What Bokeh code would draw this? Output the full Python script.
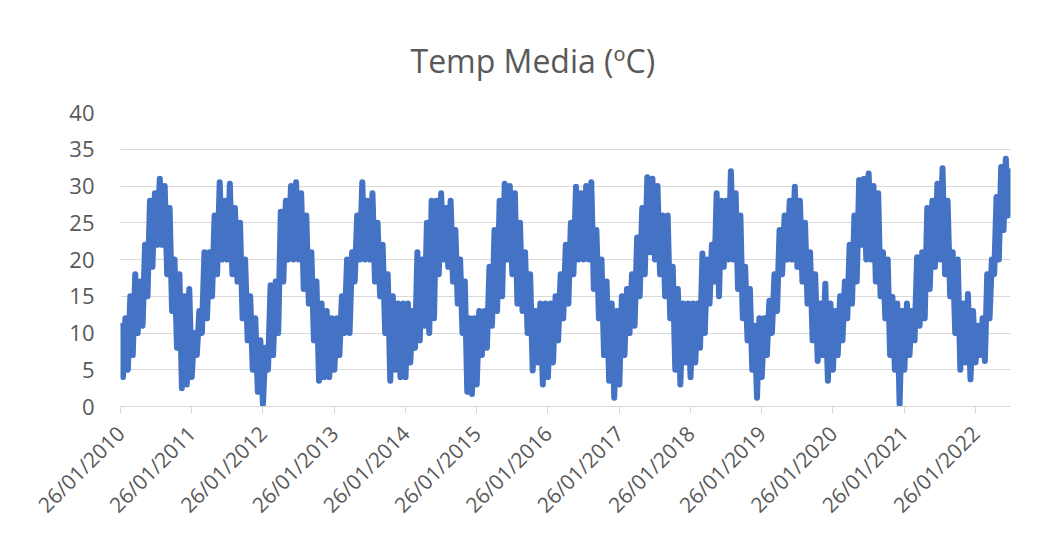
import numpy as np
import pandas as pd
from math import pi
from bokeh.plotting import figure
from bokeh.models import FixedTicker, DatetimeTickFormatter, Range1d, ColumnDataSource
from bokeh.embed import file_html
from bokeh.resources import INLINE

title_text = "Temp Media (ºC)"
tick_labels = ["26/01/%d" % y for y in range(2010, 2023)]
series_start = "2010-01-26"
series_end = "2022-07-24"
y_ticks = [0, 5, 10, 15, 20, 25, 30, 35, 40]

# daily mean temperature: alternating lows / highs of the jagged band,
# one list per year starting on 26 January
temp_2010 = [11, 4, 12, 5, 15, 7, 18, 10, 17, 11, 22, 15, 28, 19, 29, 22, 31, 22, 30, 18, 27, 13, 20, 8, 18, 2.5, 15, 3, 16]
temp_2011 = [4, 10, 7, 13, 10, 21, 12, 21, 15, 26, 18, 30.5, 20, 28, 20, 30.3, 18, 27, 17, 25, 12, 20, 9, 15, 5, 12, 2, 9]
temp_2012 = [0.3, 8, 5, 16.5, 7, 17, 10, 26.5, 17, 28, 20, 30, 20, 30.5, 20, 29, 16, 26, 14, 21, 9, 17, 3.5, 14, 4, 13, 4, 12]
temp_2013 = [5, 12, 7, 15, 10, 20, 10, 21, 17, 26, 20, 30.5, 20, 28, 20, 29, 17, 25, 15, 22, 10, 18, 3.5, 15, 5, 14, 4, 14]
temp_2014 = [4, 14, 6, 13, 8, 21, 9, 20, 11, 25, 10, 28, 12, 28, 18, 29, 20, 27, 19, 28, 17, 24, 14, 20, 10, 17, 2, 12, 1.7, 12]
temp_2015 = [3, 13, 7, 13, 8, 19, 11, 24, 13, 28, 15, 30.3, 20, 30, 18, 29, 14, 25, 13, 21, 10, 18, 4.9, 13, 6, 14, 3, 14]
temp_2016 = [4, 14, 6, 15, 9, 18, 12, 22, 14, 25, 18, 29.9, 20, 29, 20, 30, 20, 30.5, 16, 24, 12, 20, 7, 17, 3.5, 14, 1.2, 13]
temp_2017 = [3, 15, 7, 16, 10, 18, 11, 23, 15, 27, 18, 31.2, 21, 31, 20, 30, 18, 26, 15, 26, 12, 19, 5, 16, 3, 14, 6, 14]
temp_2018 = [4, 14, 6, 14, 8, 20.8, 10, 20, 14, 22, 17, 29, 15, 28, 19, 28, 20, 32, 20, 29, 16, 26, 12, 19, 9, 16, 5, 11, 1.2, 12]
temp_2019 = [4, 12, 7, 14.4, 10, 18, 13, 24, 18, 26, 20, 28, 20, 29.9, 19, 28, 17, 25, 14, 21, 9, 18, 6.2, 14, 7, 16.7, 3.5, 14]
temp_2020 = [5, 13, 7, 15, 9, 17, 12, 22, 14, 26, 17, 30.8, 22, 31, 20, 31.7, 20, 30, 17, 29, 15, 21, 12, 20, 7, 14.9, 5, 14, 0.3, 13]
temp_2021 = [5, 14, 7, 13, 9, 20.3, 11, 21, 12, 27, 16, 28, 19, 30.3, 20, 32.4, 18, 28, 15, 21, 10, 20, 5, 14, 6, 15.3, 3.7, 13]
temp_2022 = [6, 11, 7, 12, 6.2, 18, 12, 20, 18, 28.5, 20, 32.6, 24, 33.7, 26, 32]

years = list(range(2010, 2023))
year_values = [temp_2010, temp_2011, temp_2012, temp_2013, temp_2014, temp_2015, temp_2016,
               temp_2017, temp_2018, temp_2019, temp_2020, temp_2021, temp_2022]

xs, ys = [], []
for yr, vals in zip(years, year_values):
    start = pd.Timestamp("%d-01-26" % yr)
    end = pd.Timestamp("%d-01-26" % (yr + 1)) if yr < 2022 else pd.Timestamp(series_end)
    last = yr == 2022
    n = len(vals)
    for i, v in enumerate(vals):
        frac = i / (n - 1) if last else i / n
        xs.append(start + (end - start) * frac)
        ys.append(v)

src = ColumnDataSource(dict(x=xs, y=ys))

def ms(ts):
    return pd.Timestamp(ts).value / 1e6

tick_ms = [ms(pd.Timestamp(year=int(t[6:]), month=1, day=26)) for t in tick_labels]

label_font = "Open Sans"
label_color = "#595959"

p = figure(frame_width=890, frame_height=294, min_border_left=120, min_border_right=28,
           min_border_top=112, min_border_bottom=118, x_axis_type="datetime",
           x_range=Range1d(ms(series_start), ms(series_end)), y_range=Range1d(0, 40),
           output_backend="svg", toolbar_location=None, background_fill_color="white",
           border_fill_color="white", title=title_text)
p.outline_line_color = None

p.title.text_font = label_font
p.title.text_font_size = "32px"
p.title.text_font_style = "normal"
p.title.text_color = label_color
p.title.align = "left"
p.title.offset = 290
p.title.standoff = 62

p.line("x", "y", source=src, line_width=6, line_color="#4472C4", line_join="round", line_cap="round")

p.xgrid.grid_line_color = None
p.ygrid.grid_line_color = "#D9D9D9"
p.ygrid.grid_line_width = 1

p.yaxis.ticker = FixedTicker(ticks=y_ticks)
p.yaxis.axis_line_color = None
p.yaxis.major_tick_line_color = None
p.yaxis.minor_tick_line_color = None
p.yaxis.major_label_text_font = label_font
p.yaxis.major_label_text_font_size = "22px"
p.yaxis.major_label_text_color = label_color
p.yaxis.major_label_standoff = 20

fmt = "%d/%m/%Y"
p.xaxis.ticker = FixedTicker(ticks=tick_ms)
p.xaxis.formatter = DatetimeTickFormatter(microseconds=fmt, milliseconds=fmt, seconds=fmt, minsec=fmt,
                                          minutes=fmt, hourmin=fmt, hours=fmt, days=fmt, months=fmt,
                                          years=fmt, context=None)
p.xaxis.major_label_orientation = pi / 4
p.xaxis.axis_line_color = "#D9D9D9"
p.xaxis.axis_line_width = 1
p.xaxis.major_tick_line_color = "#D9D9D9"
p.xaxis.major_tick_out = 7
p.xaxis.major_tick_in = 0
p.xaxis.minor_tick_line_color = None
p.xaxis.major_label_text_font = label_font
p.xaxis.major_label_text_font_size = "21px"
p.xaxis.major_label_text_color = label_color
p.xaxis.major_label_standoff = 16

open("out.html", "w").write(file_html(p, INLINE))
